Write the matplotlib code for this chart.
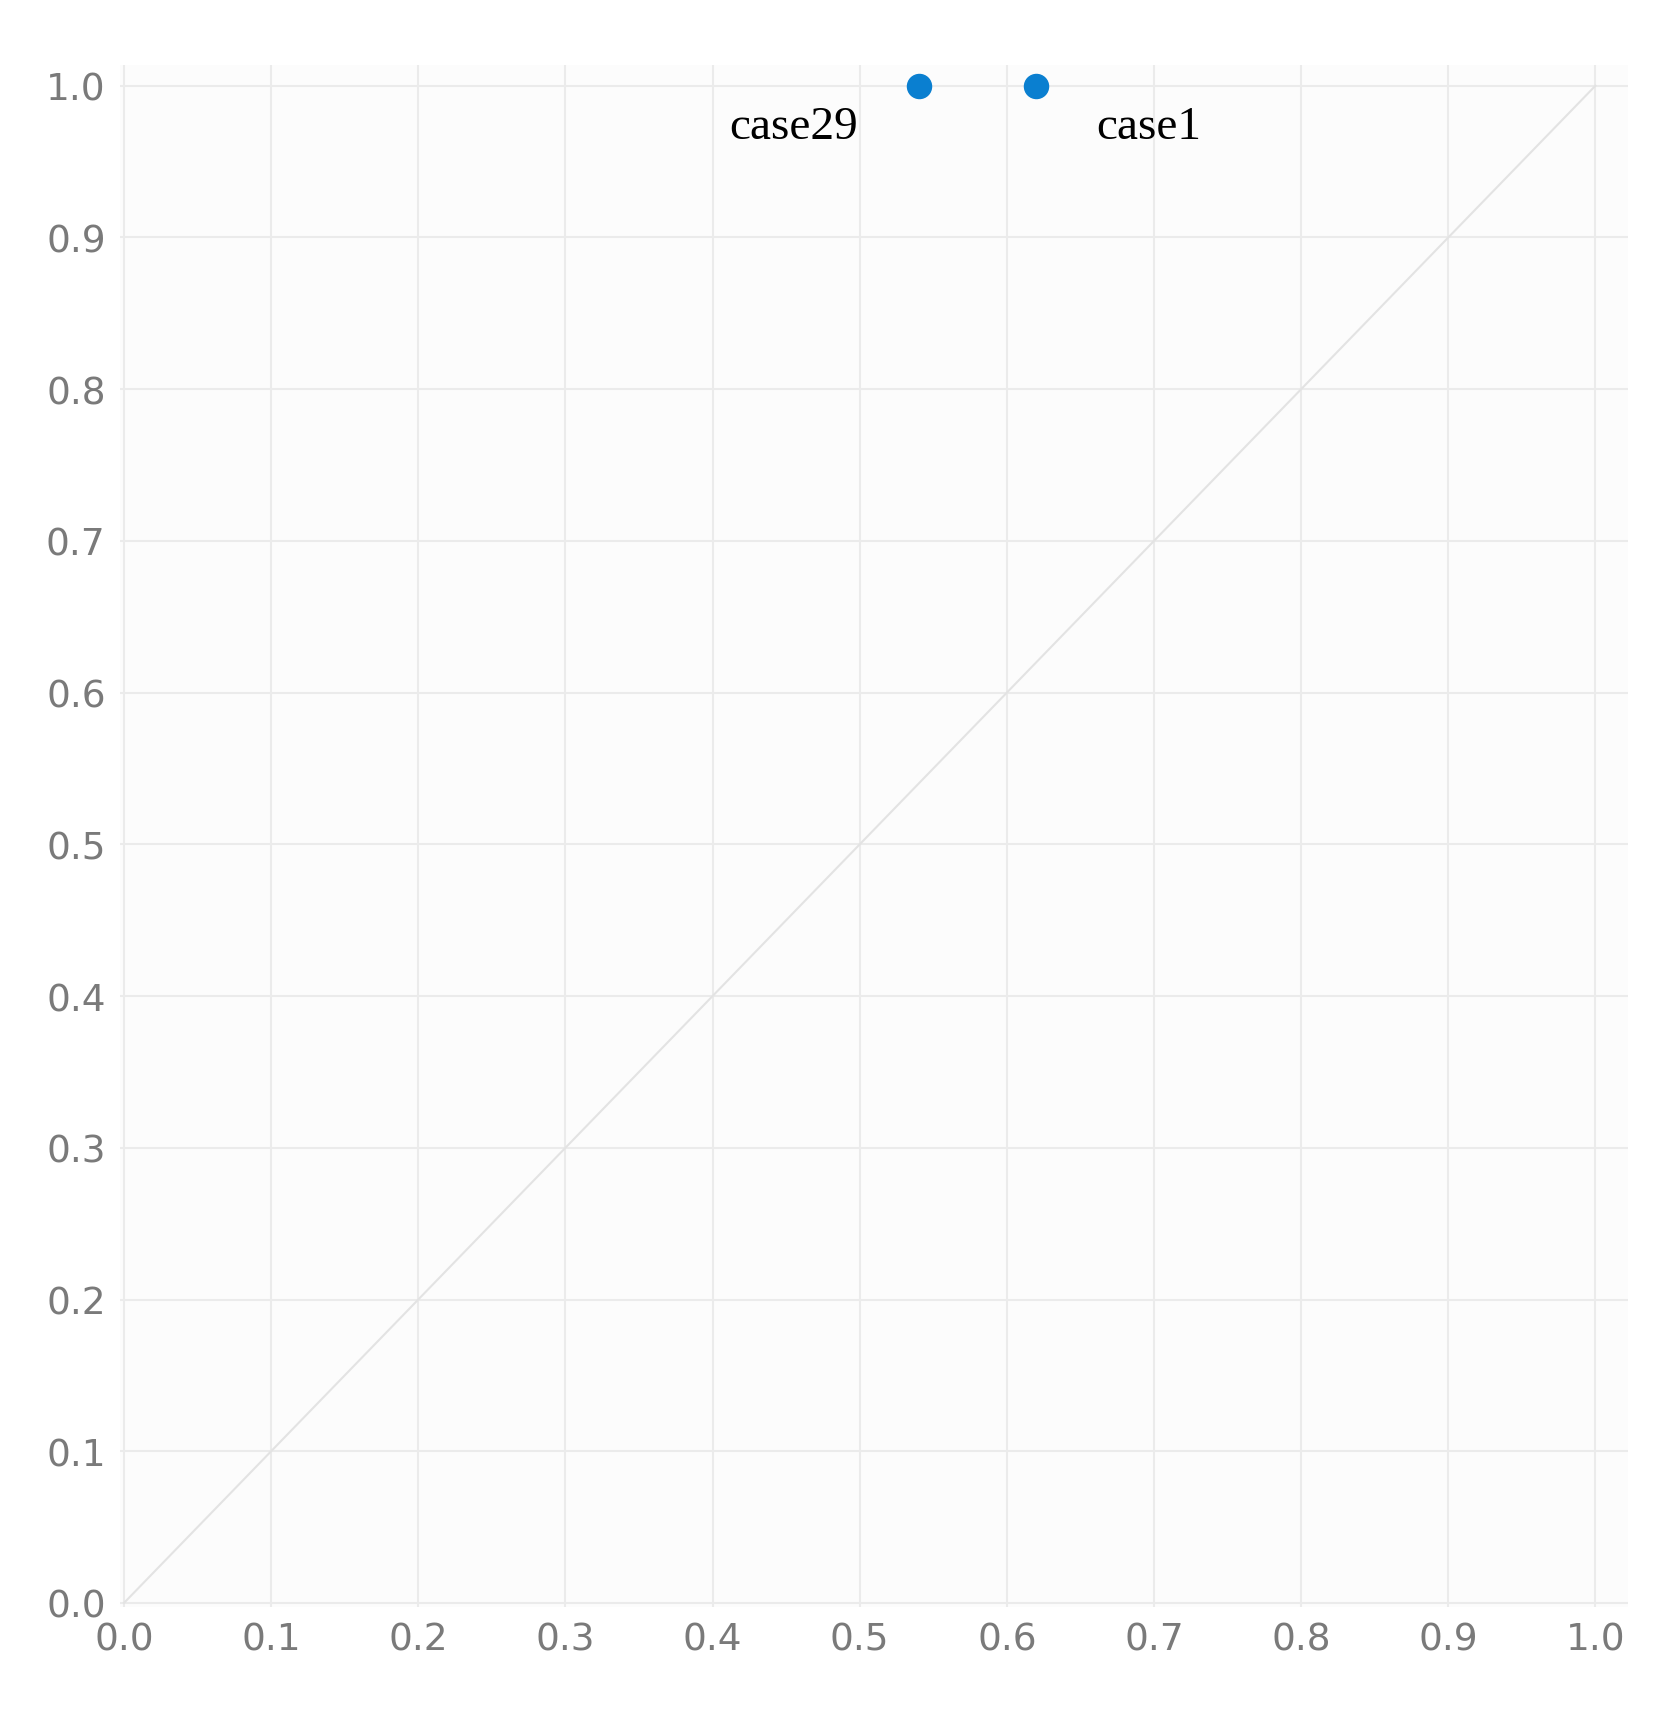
import matplotlib
matplotlib.use("Agg")
import matplotlib.pyplot as plt

cases = ["case29", "case1"]
x_vals = [0.54, 0.62]
y_vals = [1.0, 1.0]
ticks = [0.0, 0.1, 0.2, 0.3, 0.4, 0.5, 0.6, 0.7, 0.8, 0.9, 1.0]

fig = plt.figure(figsize=(16.61, 17.24), dpi=100)
fig.patch.set_facecolor("white")
ax = fig.add_axes([0.072, 0.067, 0.908, 0.895])
ax.set_facecolor("#fcfcfc")
ax.set_xlim(-0.003, 1.022)
ax.set_ylim(-0.003, 1.014)
ax.set_xticks(ticks)
ax.set_yticks(ticks)
ax.set_xticklabels([f"{t:.1f}" for t in ticks])
ax.set_yticklabels([f"{t:.1f}" for t in ticks])
ax.grid(True, color="#ebebeb", linewidth=1.5)
ax.set_axisbelow(True)
for s in ax.spines.values():
    s.set_visible(False)
ax.tick_params(length=0, labelsize=27, labelcolor="#7a7a7a", pad=10)
ax.plot([0, 1], [0, 1], color="#e3e3e3", linewidth=1.5)
ax.scatter(x_vals, y_vals, s=300, color="#0a7fd0", zorder=3)
ax.text(x_vals[0] - 0.041, y_vals[0] - 0.027, cases[0], family="Liberation Serif",
        fontsize=34, ha="right", va="center", color="black")
ax.text(x_vals[1] + 0.041, y_vals[1] - 0.027, cases[1], family="Liberation Serif",
        fontsize=34, ha="left", va="center", color="black")
fig.savefig("out.png", dpi=100)
